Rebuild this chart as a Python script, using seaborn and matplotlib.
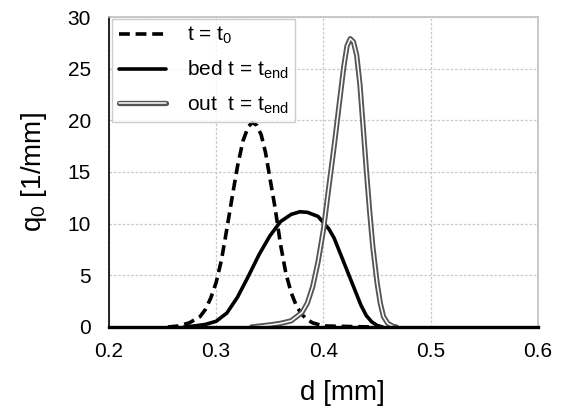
import matplotlib
matplotlib.use("Agg")
import matplotlib.pyplot as plt
import matplotlib.patheffects as pe
import seaborn as sns
import pandas as pd

# particle size distributions q0(d)
d_t0 = [0.255, 0.265, 0.275, 0.285, 0.29, 0.295, 0.30, 0.305, 0.31, 0.315,
        0.32, 0.325, 0.33, 0.334, 0.338, 0.342, 0.346, 0.35, 0.355, 0.36,
        0.365, 0.37, 0.375, 0.38, 0.385, 0.39, 0.40, 0.445]
q_t0 = [0.0, 0.1, 0.4, 1.0, 1.7, 2.8, 4.3, 6.5, 9.5, 12.6,
        15.6, 18.0, 19.4, 19.8, 19.5, 18.6, 16.9, 14.5, 11.5, 8.0,
        5.2, 3.3, 2.0, 1.2, 0.7, 0.4, 0.1, 0.0]

d_bed = [0.27, 0.28, 0.29, 0.30, 0.31, 0.32, 0.33, 0.34, 0.35, 0.36,
         0.37, 0.378, 0.385, 0.395, 0.405, 0.41, 0.415, 0.42, 0.425, 0.43,
         0.435, 0.44, 0.445, 0.45, 0.455]
q_bed = [0.0, 0.1, 0.25, 0.55, 1.35, 2.9, 4.9, 7.0, 8.8, 10.2,
         10.9, 11.15, 11.1, 10.7, 9.5, 8.6, 7.3, 6.0, 4.7, 3.4,
         2.1, 1.1, 0.5, 0.15, 0.0]

d_out = [0.333, 0.35, 0.36, 0.37, 0.38, 0.385, 0.39, 0.395, 0.40, 0.405,
         0.41, 0.415, 0.419, 0.422, 0.425, 0.428, 0.431, 0.434, 0.437, 0.44,
         0.443, 0.446, 0.45, 0.453, 0.456, 0.46, 0.465, 0.468]
q_out = [0.0, 0.2, 0.35, 0.6, 1.4, 2.3, 3.9, 6.3, 9.4, 13.5,
         17.5, 21.8, 25.2, 27.2, 27.9, 27.6, 26.3, 23.5, 19.4, 15.2,
         11.3, 7.8, 4.3, 2.3, 1.0, 0.35, 0.05, 0.0]

x_ticks = [0.2, 0.3, 0.4, 0.5, 0.6]
y_ticks = [0, 5, 10, 15, 20, 25, 30]

sns.set_theme(style="whitegrid")
plt.rcParams["font.family"] = ["Liberation Sans", "DejaVu Sans"]
plt.rcParams["mathtext.fontset"] = "custom"
plt.rcParams["mathtext.rm"] = "Liberation Sans"
plt.rcParams["mathtext.it"] = "Liberation Sans"
plt.rcParams["mathtext.default"] = "regular"
plt.rcParams["text.color"] = "black"
plt.rcParams["axes.labelcolor"] = "black"

fig = plt.figure(figsize=(5.61, 4.19), dpi=100)
ax = fig.add_axes([0.194, 0.2196, 0.765, 0.7398])

df_t0 = pd.DataFrame({"d": d_t0, "q": q_t0})
df_bed = pd.DataFrame({"d": d_bed, "q": q_bed})
df_out = pd.DataFrame({"d": d_out, "q": q_out})

common = dict(solid_joinstyle="round", dash_joinstyle="round")
sns.lineplot(data=df_t0, x="d", y="q", ax=ax, color="black", lw=2.6,
             linestyle=(0, (3, 1.6)), label="t = t$_0$", **common)
sns.lineplot(data=df_bed, x="d", y="q", ax=ax, color="black", lw=2.6,
             label="bed t = t$_{end}$", **common)
sns.lineplot(data=df_out, x="d", y="q", ax=ax, color="white", lw=1.1,
             label="out  t = t$_{end}$",
             path_effects=[pe.Stroke(linewidth=3.8, foreground="#555555",
                                     joinstyle="round"), pe.Normal()],
             **common)

ax.set_xlim(0.2, 0.6)
ax.set_ylim(0, 30)
ax.set_xticks(x_ticks)
ax.set_yticks(y_ticks)
ax.set_xticklabels([f"{v:.1f}" for v in x_ticks])
ax.set_yticklabels([str(v) for v in y_ticks])
ax.tick_params(axis="both", length=0, labelsize=15, colors="black")
ax.tick_params(axis="x", pad=11)
ax.tick_params(axis="y", pad=13)

ax.grid(True, color="#c8c8c8", linestyle=(0, (2, 1.5)), linewidth=0.9)
ax.set_facecolor("white")
for side in ("top", "right"):
    ax.spines[side].set_color("#c0c0c0")
    ax.spines[side].set_linewidth(1.2)
ax.spines["left"].set_color("black")
ax.spines["left"].set_linewidth(1.2)
ax.spines["bottom"].set_color("black")
ax.spines["bottom"].set_linewidth(2.4)

ax.set_xlabel("d [mm]", fontsize=20, color="black")
ax.set_ylabel("q$_0$ [1/mm]", fontsize=20, color="black")
ax.xaxis.set_label_coords(0.545, -0.17)
ax.yaxis.set_label_coords(-0.14, 0.5)

leg = ax.legend(loc="upper left", bbox_to_anchor=(0.008, 0.995), fontsize=15,
                frameon=True, fancybox=False, edgecolor="#c0c0c0",
                handlelength=2.3, handletextpad=1.0, labelspacing=0.62,
                borderpad=0.3, borderaxespad=0.0, labelcolor="black")
leg.get_frame().set_linewidth(1.0)

fig.savefig("out.png", dpi=100, facecolor="white")
